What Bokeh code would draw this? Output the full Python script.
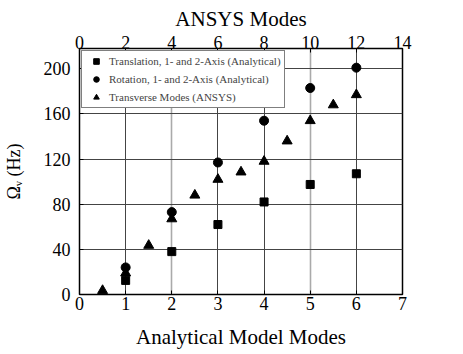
from bokeh.plotting import figure
from bokeh.models import Range1d, LinearAxis, FixedTicker, Grid, Legend, LegendItem, ColumnDataSource
from bokeh.embed import file_html
from bokeh.resources import INLINE

# Analytical model modes (bottom axis)
analytical_modes = [1, 2, 3, 4, 5, 6]
translation_hz = [12.5, 38, 62, 82, 97.5, 107]
rotation_hz = [24, 73, 117, 154, 183, 201]

# ANSYS modes (top axis)
ansys_modes = [1, 2, 3, 4, 5, 6, 7, 8, 9, 10, 11, 12]
transverse_hz = [3.5, 19, 43.5, 67, 88, 102, 108.5, 118, 136, 154, 168, 177]

bottom_ticks = [0, 1, 2, 3, 4, 5, 6, 7]
top_ticks = [0, 2, 4, 6, 8, 10, 12, 14]
y_ticks = [0, 40, 80, 120, 160, 200]

QFONT = "'Liberation Serif', serif"

p = figure(width=463, height=354, output_backend="svg", toolbar_location=None,
           x_range=Range1d(0, 7), y_range=Range1d(0, 218),
           min_border_left=77, min_border_right=61, min_border_top=48, min_border_bottom=60)
p.extra_x_ranges = {"ansys": Range1d(0, 14)}

p.outline_line_color = "black"
p.outline_line_width = 1.5
p.background_fill_color = "white"
p.border_fill_color = "white"

p.xgrid.visible = False
p.ygrid.visible = False

dark = Grid(dimension=0, ticker=FixedTicker(ticks=[1, 3, 4, 6]), grid_line_color="#444444", grid_line_width=1)
light = Grid(dimension=0, ticker=FixedTicker(ticks=[2, 5]), grid_line_color="#aaaaaa", grid_line_width=1.6)
hgrid = Grid(dimension=1, ticker=FixedTicker(ticks=[40, 80, 120, 160, 200]), grid_line_color="#444444", grid_line_width=1)
p.add_layout(dark)
p.add_layout(light)
p.add_layout(hgrid)

def style_axis(ax, title_size="21px"):
    ax.major_label_text_font = QFONT
    ax.major_label_text_font_size = "18px"
    ax.major_label_text_color = "black"
    ax.axis_label_text_font = QFONT
    ax.axis_label_text_font_size = title_size
    ax.axis_label_text_font_style = "normal"
    ax.axis_label_text_color = "black"
    ax.minor_tick_line_color = None
    ax.major_tick_out = 0
    ax.major_tick_in = 4
    ax.major_tick_line_color = "black"
    ax.axis_line_color = "black"

xa = p.xaxis[0]
xa.ticker = FixedTicker(ticks=bottom_ticks)
xa.axis_label = "Analytical Model Modes"
style_axis(xa, "21px")
xa.major_label_standoff = 2
xa.axis_label_standoff = 12

ya = p.yaxis[0]
ya.ticker = FixedTicker(ticks=y_ticks)
ya.axis_label = "Ωᵥ (Hz)"
style_axis(ya, "18px")
ya.major_label_standoff = 9
ya.axis_label_standoff = 17

top = LinearAxis(x_range_name="ansys", ticker=FixedTicker(ticks=top_ticks), axis_label="ANSYS Modes")
style_axis(top, "21px")
top.major_label_standoff = 0
top.axis_label_standoff = 2
p.add_layout(top, "above")

src_a = ColumnDataSource(dict(x=analytical_modes, t=translation_hz, r=rotation_hz))
src_b = ColumnDataSource(dict(x=ansys_modes, v=transverse_hz))

r_sq = p.scatter("x", "t", source=src_a, marker="square", size=8, color="black")
r_ci = p.scatter("x", "r", source=src_a, marker="circle", size=9, color="black")
r_tr = p.scatter("x", "v", source=src_b, marker="triangle", size=10, color="black", x_range_name="ansys")

legend = Legend(items=[
    LegendItem(label="Translation, 1- and 2-Axis (Analytical)", renderers=[r_sq]),
    LegendItem(label="Rotation, 1- and 2-Axis (Analytical)", renderers=[r_ci]),
    LegendItem(label="Transverse Modes (ANSYS)", renderers=[r_tr]),
], location="top_left")
legend.label_text_font = QFONT
legend.label_text_font_size = "11px"
legend.border_line_color = "black"
legend.border_line_width = 1
legend.margin = 2
legend.padding = 3
legend.spacing = 4
legend.label_standoff = 2
legend.glyph_width = 22
legend.glyph_height = 14
legend.label_height = 14
legend.background_fill_alpha = 1
p.add_layout(legend)

open("out.html", "w").write(file_html(p, INLINE))
